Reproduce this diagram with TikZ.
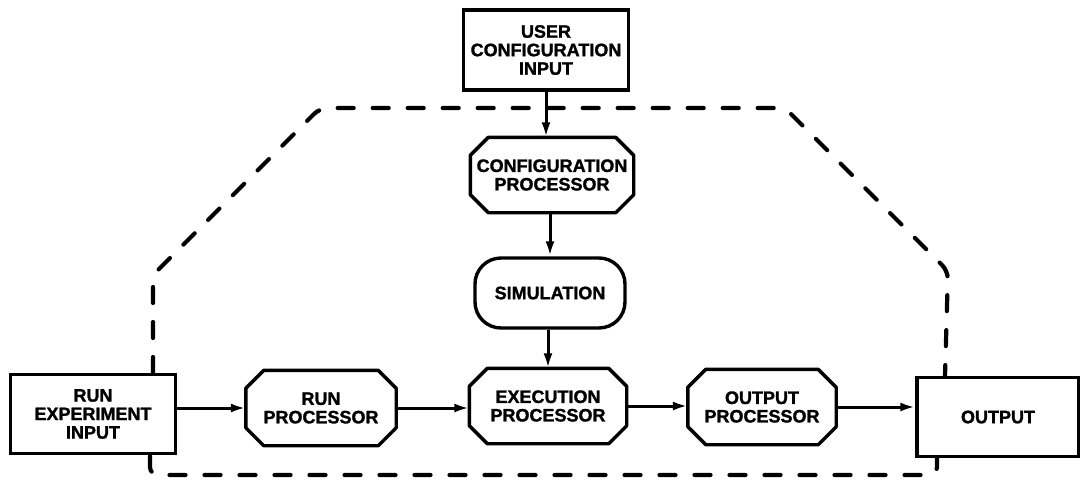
\documentclass[tikz,border=0pt]{standalone}
\usepackage{fontspec}
\setsansfont{Liberation Sans}[BoldFeatures={FakeBold=1.5}]
\usetikzlibrary{positioning}
\usetikzlibrary{arrows.meta}

\tikzset{
  block/.style={draw, line width=3.4pt, rectangle, align=center, inner sep=1pt,
    font=\sffamily\bfseries\fontsize{18}{18.5}\selectfont},
  proc/.style={block, draw=none, minimum width=#1, minimum height=72pt},
  outline/.style={line width=3.4pt, line join=round},
  flow/.style={-{Latex[length=15pt,width=9pt]}, line width=3pt},
  bound/.style={line width=4.2pt, line cap=round, dash pattern=on 16pt off 19pt, rounded corners=8pt},
}

\begin{document}
\begin{tikzpicture}[x=1pt, y=-1pt]
  \useasboundingbox (0,0) rectangle (1080,480);
  \def\cut{18pt}

  % input and output boxes
  \node[block, minimum width=165pt, minimum height=80pt] (user) at (546,50) {USER\\CONFIGURATION\\INPUT};
  \node[block, minimum width=165pt, minimum height=79pt] (rei) at (93,414) {RUN\\EXPERIMENT\\INPUT};
  \node[block, minimum width=162pt, minimum height=79pt] (out) at (998,417) {OUTPUT};

  % processors
  \node[proc=160pt] (cproc) at (552,175) {CONFIGURATION\\PROCESSOR};
  \node[block, rounded corners=26pt, minimum width=150pt, minimum height=70pt] (sim) at (550,293) {SIMULATION};
  \node[proc=154pt] (eproc) at (548,406) {EXECUTION\\PROCESSOR};
  \node[proc=147pt] (rproc) at (321,408) {RUN\\PROCESSOR};
  \node[proc=145pt] (oproc) at (762,407) {OUTPUT\\PROCESSOR};

  % octagon outlines of the processors
  \foreach \n in {cproc,eproc,rproc,oproc} {
    \draw[outline] ([xshift=\cut]\n.north west) -- ([xshift=-\cut]\n.north east)
      -- ([yshift=-\cut]\n.north east) -- ([yshift=\cut]\n.south east)
      -- ([xshift=-\cut]\n.south east) -- ([xshift=\cut]\n.south west)
      -- ([yshift=\cut]\n.south west) -- ([yshift=-\cut]\n.north west) -- cycle;
  }

  % the dashed system boundary
  \draw[bound] (153,373) -- (153,275) -- (320,108) -- (785,108) -- (948,271) -- (945,376);
  \draw[bound] (150,456) -- (150,475) -- (937,475) -- (937,458);

  % flow of data
  \draw[flow] (user) -- (user |- cproc.north);
  \draw[flow] (cproc.south -| sim) -- (sim);
  \draw[flow] (sim.south -| eproc) -- (eproc);
  \draw[flow] (rei.east |- rproc.west) -- (rproc.west);
  \draw[flow] (rproc) -- (rproc -| eproc.west);
  \draw[flow] (eproc) -- (eproc -| oproc.west);
  \draw[flow] (oproc.east) -- (oproc.east -| out.west);
\end{tikzpicture}
\end{document}
